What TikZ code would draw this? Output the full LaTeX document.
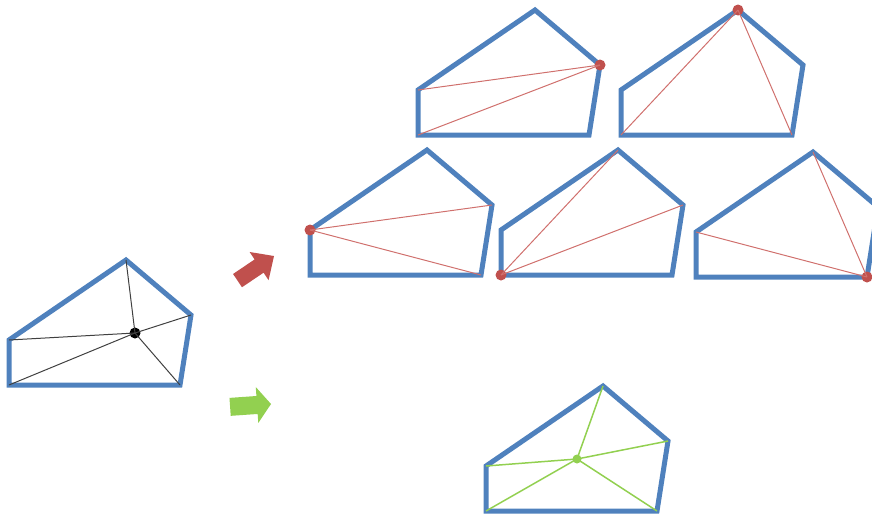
\documentclass[tikz,border=0pt]{standalone}
\definecolor{polyblue}{HTML}{4F81BD}
\definecolor{dotred}{HTML}{C0504D}
\definecolor{linered}{HTML}{D0706D}
\definecolor{arrgreen}{HTML}{92D050}
\definecolor{darkline}{HTML}{404040}
\tikzset{
  poly/.style={draw=polyblue, line width=5pt},
  pent/.pic={
    \coordinate (-E) at (0,0);
    \coordinate (-A) at (0,-45);
    \coordinate (-B) at (117,-125);
    \coordinate (-C) at (182,-70);
    \coordinate (-D) at (171,0);
    \path[poly] (-E) -- (-A) -- (-B) -- (-C) -- (-D) -- cycle;
  },
  blackline/.style={draw=darkline, line width=1pt},
  redline/.style={draw=linered, line width=1pt},
  greenline/.style={draw=arrgreen, line width=1.5pt},
  reddot/.style={circle, fill=dotred, inner sep=0pt, minimum size=11pt},
  blackdot/.style={circle, fill=black, inner sep=0pt, minimum size=11pt},
  greendot/.style={circle, fill=arrgreen, inner sep=0pt, minimum size=9pt},
}
\begin{document}
\begin{tikzpicture}[x=1pt, y=-1pt]
\useasboundingbox (0,0) rectangle (872,515);
\clip (0,0) rectangle (872,515);

% left polygon with interior point
\pic (L) at (9,385) {pent};
\node[blackdot] (Lc) at (135,333) {};
\foreach \v in {A,B,C,D,E} \draw[blackline] (Lc.center) -- (L-\v);

% top row
\pic (T1) at (418,135) {pent};
\node[reddot] (T1d) at (T1-C) {};
\draw[redline] (T1d.center) -- (T1-A);
\draw[redline] (T1d.center) -- (T1-E);

\pic (T2) at (621,135) {pent};
\node[reddot] (T2d) at (T2-B) {};
\draw[redline] (T2d.center) -- (T2-E);
\draw[redline] (T2d.center) -- (T2-D);

% middle row
\pic (M1) at (310,275) {pent};
\node[reddot] (M1d) at (M1-A) {};
\draw[redline] (M1d.center) -- (M1-C);
\draw[redline] (M1d.center) -- (M1-D);

\pic (M2) at (501,275) {pent};
\node[reddot] (M2d) at (M2-E) {};
\draw[redline] (M2d.center) -- (M2-B);
\draw[redline] (M2d.center) -- (M2-C);

\pic (M3) at (696,277) {pent};
\node[reddot] (M3d) at (M3-D) {};
\draw[redline] (M3d.center) -- (M3-A);
\draw[redline] (M3d.center) -- (M3-B);

% bottom polygon with green interior point
\pic (B1) at (486,511) {pent};
\node[greendot] (Bc) at (577,459) {};
\foreach \v in {A,B,C,D,E} \draw[greenline] (Bc.center) -- (B1-\v);

% block arrows
\begin{scope}[shift={(274,256)}, rotate=34]
  \fill[dotred] (0,0) -- (-18,-17) -- (-18,-8) -- (-44,-8) -- (-44,8) -- (-18,8) -- (-18,17) -- cycle;
\end{scope}
\begin{scope}[shift={(271,404)}, rotate=4]
  \fill[arrgreen] (0,0) -- (-14,-18) -- (-14,-9) -- (-41,-9) -- (-41,9) -- (-14,9) -- (-14,18) -- cycle;
\end{scope}
\end{tikzpicture}
\end{document}
